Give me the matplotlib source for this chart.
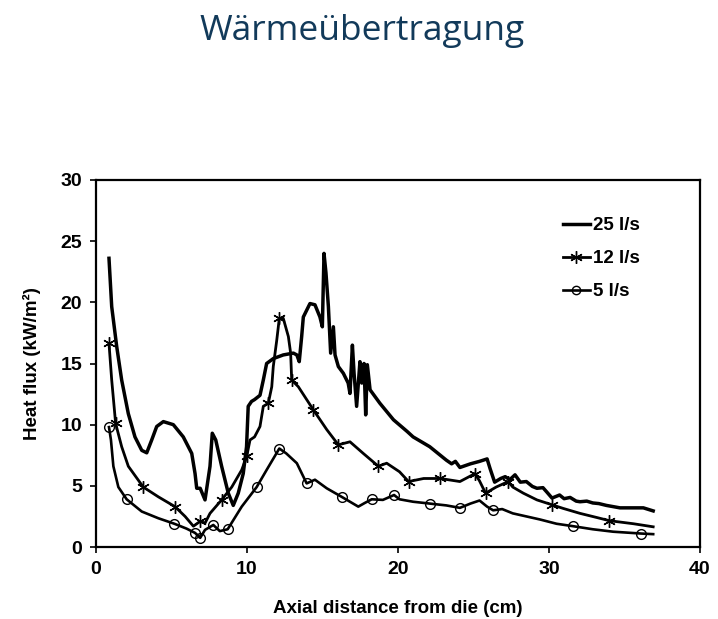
import matplotlib
matplotlib.use("Agg")
import matplotlib.pyplot as plt
from matplotlib.lines import Line2D

# ---- data ----
x25 = [0.86, 1.04, 1.37, 1.7, 2.14, 2.58, 3.03, 3.36, 3.69, 4.02, 4.46, 5.12, 5.78, 6.34,
       6.56, 6.67, 6.9, 7.22, 7.55, 7.7, 7.93, 8.32, 8.76, 9.09, 9.42, 9.75, 9.97, 10.08,
       10.3, 10.5, 10.86, 11.08, 11.3, 11.74, 12.4, 13.07, 13.3, 13.46, 13.62, 13.73, 14.17,
       14.5, 14.83, 14.99, 15.1, 15.23, 15.39, 15.54, 15.72, 15.83, 16.05, 16.38, 16.7,
       16.82, 16.98, 17.09, 17.26, 17.48, 17.6, 17.75, 17.86, 17.97, 18.15, 18.8, 19.7,
       20.6, 21.0, 22.1, 23.2, 23.55, 23.8, 24.1, 24.8, 25.4, 25.9, 26.1, 26.4, 26.8, 27.1,
       27.4, 27.75, 28.1, 28.5, 28.9, 29.2, 29.6, 29.85, 30.2, 30.7, 31.0, 31.4, 31.8, 32.05,
       32.5, 32.9, 33.3, 33.8, 34.7, 36.25, 36.9]
y25 = [23.6, 19.65, 16.4, 13.65, 10.9, 9.0, 7.9, 7.7, 8.75, 9.85, 10.25, 10.0, 9.0, 7.65,
       6.0, 4.8, 4.8, 3.85, 6.6, 9.3, 8.75, 6.6, 4.4, 3.4, 4.4, 6.0, 8.2, 11.5,
       11.9, 12.05, 12.4, 13.65, 15.0, 15.4, 15.7, 15.85, 15.7, 15.15, 17.2, 18.8, 19.9,
       19.8, 18.8, 18.0, 24.0, 22.4, 19.65, 15.85, 18.0, 15.7, 14.75, 14.2, 13.4,
       12.55, 16.5, 14.2, 11.5, 15.15, 13.4, 15.0, 10.8, 14.9, 12.85, 11.75, 10.4,
       9.45, 9.0, 8.2, 7.1, 6.8, 7.0, 6.5, 6.8, 7.0, 7.2, 6.4, 5.3, 5.6, 5.75,
       5.5, 5.9, 5.3, 5.35, 4.95, 4.8, 4.85, 4.5, 4.0, 4.25, 3.95, 4.05, 3.75, 3.7,
       3.75, 3.6, 3.55, 3.4, 3.2, 3.2, 2.95]

x12 = [0.86, 1.04, 1.3, 1.7, 2.14, 3.13, 4.13, 5.23, 5.9, 6.45, 6.9, 7.22, 7.55, 8.32,
       8.99, 9.65, 9.98, 10.2, 10.5, 10.86, 11.08, 11.41, 11.64, 11.74, 11.97, 12.14, 12.4,
       12.74, 12.89, 12.96, 13.4, 14.4, 15.28, 16.05, 16.82, 17.7, 18.7, 19.25, 20.1, 20.7,
       21.7, 22.8, 24.1, 25.1, 25.4, 25.8, 26.5, 27.3, 27.6, 28.3, 29.2, 30.2, 30.95, 32.05,
       33.2, 34.0, 35.6, 36.9]
y12 = [16.65, 13.65, 10.1, 8.2, 6.6, 4.9, 4.1, 3.3, 2.5, 1.7, 2.1, 1.95, 2.75, 3.85,
       4.9, 6.3, 7.4, 8.75, 9.0, 9.85, 11.5, 11.75, 13.1, 14.75, 16.9, 18.7, 18.7,
       17.2, 15.85, 13.65, 13.1, 11.2, 9.6, 8.35, 8.6, 7.65, 6.6, 6.85, 6.15, 5.35,
       5.6, 5.6, 5.35, 6.0, 5.4, 4.4, 4.9, 5.35, 4.9, 4.4, 3.85, 3.45, 3.15, 2.75,
       2.4, 2.15, 1.9, 1.65]
m12 = [0, 2, 5, 7, 10, 13, 16, 21, 25, 29, 31, 33, 36, 39, 41, 43, 45, 47, 51, 55]

x5 = [0.86, 0.99, 1.15, 1.48, 2.03, 3.03, 4.13, 5.19, 6.0, 6.56, 6.9, 7.22, 7.77, 8.2,
      8.72, 9.65, 10.64, 11.3, 12.14, 12.6, 13.3, 13.95, 14.5, 15.28, 16.27, 17.37, 17.8,
      18.26, 19.0, 19.74, 20.1, 21.0, 22.1, 23.2, 24.1, 24.8, 25.4, 25.9, 26.3, 26.9,
      27.6, 28.5, 29.4, 30.5, 31.6, 32.9, 34.25, 36.1, 36.9]
y5 = [9.8, 8.75, 6.6, 4.9, 3.9, 2.9, 2.35, 1.9, 1.5, 1.15, 0.75, 1.4, 1.8, 1.3,
      1.45, 3.3, 4.9, 6.3, 8.05, 7.65, 6.85, 5.2, 5.5, 4.8, 4.1, 3.3, 3.6,
      3.9, 3.85, 4.25, 3.9, 3.7, 3.55, 3.4, 3.2, 3.55, 3.8, 3.3, 3.0, 3.1,
      2.75, 2.5, 2.25, 1.9, 1.7, 1.45, 1.25, 1.1, 1.05]
m5 = [0, 4, 7, 9, 10, 12, 14, 16, 18, 21, 24, 27, 29, 32, 34, 38, 44, 47]

labels = ["25 l/s", "12 l/s", "5 l/s"]
xticks = [0, 10, 20, 30, 40]
yticks = [0, 5, 10, 15, 20, 25, 30]
title = "Wärmeübertragung"
xlabel = "Axial distance from die (cm)"
ylabel = "Heat flux (kW/m²)"

# ---- figure ----
W, H = 718, 619
fig = plt.figure(figsize=(W / 100, H / 100), dpi=100)
fig.patch.set_facecolor("white")

ax = fig.add_axes([96 / W, 1 - 547 / H, (700 - 96) / W, (547 - 180) / H])

afont = dict(family="Liberation Sans", weight="bold")

ax.plot(x25, y25, color="black", lw=2.5, solid_joinstyle="round")
ax.plot(x12, y12, color="black", lw=2.0, solid_joinstyle="round", marker=(6, 2, 0),
        markersize=9, markeredgewidth=1.0, markevery=m12)
ax.plot(x5, y5, color="black", lw=1.9, solid_joinstyle="round", marker="o", markersize=7,
        mfc="none", markeredgewidth=1.0, markevery=m5)

ax.set_xlim(0, 40)
ax.set_ylim(0, 30)
ax.set_xticks(xticks)
ax.set_yticks(yticks)
ax.tick_params(direction="out", length=4, width=1.2, labelsize=14, pad=6)
for lab in ax.get_xticklabels() + ax.get_yticklabels():
    lab.set_fontfamily("Liberation Sans")
    lab.set_fontweight("bold")
for s in ax.spines.values():
    s.set_linewidth(1.6)
    s.set_color("black")

ax.set_xlabel(xlabel, fontsize=13.5, labelpad=16, **afont)
ax.set_ylabel(ylabel, fontsize=13.5, labelpad=14, **afont)

handles = [
    Line2D([], [], color="black", lw=2.5),
    Line2D([], [], color="black", lw=2.0, marker=(6, 2, 0), markersize=9, markeredgewidth=1.0),
    Line2D([], [], color="black", lw=1.9, marker="o", markersize=6, mfc="none", markeredgewidth=1.0),
]
leg = ax.legend(handles, labels, loc="upper left", bbox_to_anchor=(0.745, 0.945),
                frameon=False, handlelength=1.45, handletextpad=0.15, labelspacing=0.85,
                prop=dict(family="Liberation Sans", weight="bold", size=13.5))

fig.text(0.504, 1 - 40 / H, title, ha="center", va="baseline", fontsize=25.5,
         color="#123a5a", family="Open Sans")

fig.savefig("out.png", dpi=100)
